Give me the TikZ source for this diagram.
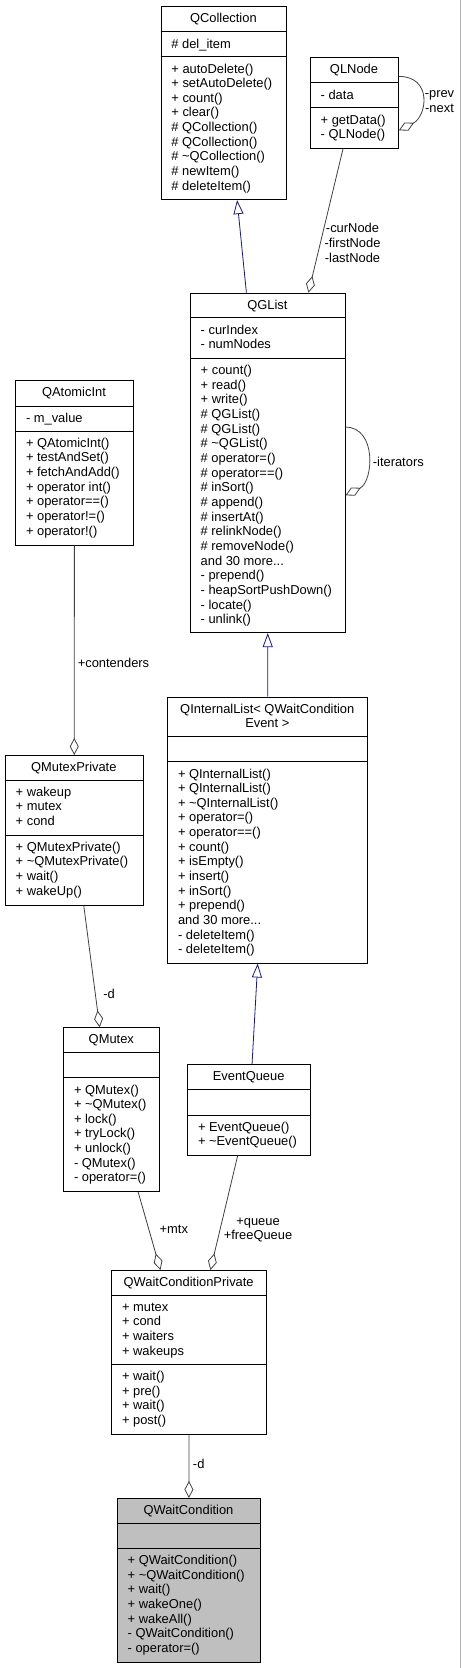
\documentclass[tikz,border=0pt]{standalone}
\usepackage{fontspec}
\setmainfont{Liberation Sans}
\usetikzlibrary{arrows.meta}
\definecolor{edgegray}{HTML}{404040}
\definecolor{inhblue}{HTML}{191970}
\definecolor{focusgray}{HTML}{BFBFBF}
\tikzset{
    umlclass/.style={
           rectangle,
           draw=black, line width=0.8pt,
           anchor=north west,
           inner sep=0pt
           },
    members/.style={anchor=north west, inner sep=0pt},
    classname/.style={anchor=north, inner sep=0pt},
    sepline/.style={draw=black, line width=0.8pt},
    aggr/.style={draw=edgegray, line width=0.8pt,
           -{Diamond[open, length=17pt, width=9pt]}},
    inherit/.style={draw=inhblue, line width=0.8pt,
           -{Triangle[open, length=14pt, width=10pt]}},
    rolename/.style={inner sep=0pt},
}

\begin{document}
\begin{tikzpicture}[x=1pt, y=-1pt, font=\fontsize{12.9}{14.65}\selectfont]
    \useasboundingbox (0,0) rectangle (461,1668);
    \draw[black!30, line width=0.8pt] (460.3,0) -- (460.3,1668);

    % QCollection
    \node[umlclass, minimum width=125.3pt, minimum height=193.6pt] (qcol) at (160.7,5.7) {};
    \draw[sepline] (qcol.west |- 0,31.7) -- (qcol.east |- 0,31.7);
    \draw[sepline] (qcol.west |- 0,56.7) -- (qcol.east |- 0,56.7);
    \node[classname] at (223.35,11.55) {\begin{tabular}{@{}c@{}}QCollection\end{tabular}};
    \node[members] at (171.2,37.55) {\begin{tabular}{@{}l@{}}\# del\_item\end{tabular}};
    \node[members] at (171.2,62.55)
        {\begin{tabular}{@{}l@{}}
            + autoDelete()\\
            + setAutoDelete()\\
            + count()\\
            + clear()\\
            \# QCollection()\\
            \# QCollection()\\
            \# \textasciitilde QCollection()\\
            \# newItem()\\
            \# deleteItem()
        \end{tabular}};

    % QLNode
    \node[umlclass, minimum width=88pt, minimum height=90.4pt] (qln) at (310,57.3) {};
    \draw[sepline] (qln.west |- 0,82.7) -- (qln.east |- 0,82.7);
    \draw[sepline] (qln.west |- 0,107.7) -- (qln.east |- 0,107.7);
    \node[classname] at (354,63.15) {\begin{tabular}{@{}c@{}}QLNode\end{tabular}};
    \node[members] at (320.5,88.55) {\begin{tabular}{@{}l@{}}- data\end{tabular}};
    \node[members] at (320.5,113.55)
        {\begin{tabular}{@{}l@{}}
            + getData()\\
            - QLNode()
        \end{tabular}};

    % QGList
    \node[umlclass, minimum width=154.7pt, minimum height=339.6pt] (qgl) at (190,292.7) {};
    \draw[sepline] (qgl.west |- 0,317.7) -- (qgl.east |- 0,317.7);
    \draw[sepline] (qgl.west |- 0,358.3) -- (qgl.east |- 0,358.3);
    \node[classname] at (267.35,298.55) {\begin{tabular}{@{}c@{}}QGList\end{tabular}};
    \node[members] at (200.5,323.55)
        {\begin{tabular}{@{}l@{}}
            - curIndex\\
            - numNodes
        \end{tabular}};
    \node[members] at (200.5,364.15)
        {\begin{tabular}{@{}l@{}}
            + count()\\
            + read()\\
            + write()\\
            \# QGList()\\
            \# QGList()\\
            \# \textasciitilde QGList()\\
            \# operator=()\\
            \# operator==()\\
            \# inSort()\\
            \# append()\\
            \# insertAt()\\
            \# relinkNode()\\
            \# removeNode()\\
            and 30 more...\\
            - prepend()\\
            - heapSortPushDown()\\
            - locate()\\
            - unlink()
        \end{tabular}};

    % QAtomicInt
    \node[umlclass, minimum width=117.4pt, minimum height=164.7pt] (qai) at (15.3,380) {};
    \draw[sepline] (qai.west |- 0,406) -- (qai.east |- 0,406);
    \draw[sepline] (qai.west |- 0,431) -- (qai.east |- 0,431);
    \node[classname] at (74,385.85) {\begin{tabular}{@{}c@{}}QAtomicInt\end{tabular}};
    \node[members] at (25.8,411.85) {\begin{tabular}{@{}l@{}}- m\_value\end{tabular}};
    \node[members] at (25.8,436.85)
        {\begin{tabular}{@{}l@{}}
            + QAtomicInt()\\
            + testAndSet()\\
            + fetchAndAdd()\\
            + operator int()\\
            + operator==()\\
            + operator!=()\\
            + operator!()
        \end{tabular}};

    % QMutexPrivate
    \node[umlclass, minimum width=137.7pt, minimum height=149.7pt] (qmp) at (5,755) {};
    \draw[sepline] (qmp.west |- 0,780) -- (qmp.east |- 0,780);
    \draw[sepline] (qmp.west |- 0,835) -- (qmp.east |- 0,835);
    \node[classname] at (73.85,760.85) {\begin{tabular}{@{}c@{}}QMutexPrivate\end{tabular}};
    \node[members] at (15.5,785.85)
        {\begin{tabular}{@{}l@{}}
            + wakeup\\
            + mutex\\
            + cond
        \end{tabular}};
    \node[members] at (15.5,840.85)
        {\begin{tabular}{@{}l@{}}
            + QMutexPrivate()\\
            + \textasciitilde QMutexPrivate()\\
            + wait()\\
            + wakeUp()
        \end{tabular}};

    % QInternalList< QWaitConditionEvent >
    \node[umlclass, minimum width=200pt, minimum height=266pt] (qil) at (167.3,696.7) {};
    \draw[sepline] (qil.west |- 0,736.7) -- (qil.east |- 0,736.7);
    \draw[sepline] (qil.west |- 0,761.7) -- (qil.east |- 0,761.7);
    \node[classname] at (267.3,702.55)
        {\begin{tabular}{@{}c@{}}
            QInternalList< QWaitCondition\\
            Event >
        \end{tabular}};
    \node[members] at (177.8,767.55)
        {\begin{tabular}{@{}l@{}}
            + QInternalList()\\
            + QInternalList()\\
            + \textasciitilde QInternalList()\\
            + operator=()\\
            + operator==()\\
            + count()\\
            + isEmpty()\\
            + insert()\\
            + inSort()\\
            + prepend()\\
            and 30 more...\\
            - deleteItem()\\
            - deleteItem()
        \end{tabular}};

    % QMutex
    \node[umlclass, minimum width=96pt, minimum height=163.7pt] (qmx) at (63.3,1027.3) {};
    \draw[sepline] (qmx.west |- 0,1052.3) -- (qmx.east |- 0,1052.3);
    \draw[sepline] (qmx.west |- 0,1077.7) -- (qmx.east |- 0,1077.7);
    \node[classname] at (111.3,1033.15) {\begin{tabular}{@{}c@{}}QMutex\end{tabular}};
    \node[members] at (73.8,1083.55)
        {\begin{tabular}{@{}l@{}}
            + QMutex()\\
            + \textasciitilde QMutex()\\
            + lock()\\
            + tryLock()\\
            + unlock()\\
            - QMutex()\\
            - operator=()
        \end{tabular}};

    % EventQueue
    \node[umlclass, minimum width=122.7pt, minimum height=90.7pt] (evq) at (187.3,1064) {};
    \draw[sepline] (evq.west |- 0,1089.3) -- (evq.east |- 0,1089.3);
    \draw[sepline] (evq.west |- 0,1115) -- (evq.east |- 0,1115);
    \node[classname] at (248.65,1069.85) {\begin{tabular}{@{}c@{}}EventQueue\end{tabular}};
    \node[members] at (197.8,1120.85)
        {\begin{tabular}{@{}l@{}}
            + EventQueue()\\
            + \textasciitilde EventQueue()
        \end{tabular}};

    % QWaitConditionPrivate
    \node[umlclass, minimum width=154.7pt, minimum height=164pt] (qwcp) at (111.3,1270) {};
    \draw[sepline] (qwcp.west |- 0,1295) -- (qwcp.east |- 0,1295);
    \draw[sepline] (qwcp.west |- 0,1364.3) -- (qwcp.east |- 0,1364.3);
    \node[classname] at (188.65,1275.85) {\begin{tabular}{@{}c@{}}QWaitConditionPrivate\end{tabular}};
    \node[members] at (121.8,1300.85)
        {\begin{tabular}{@{}l@{}}
            + mutex\\
            + cond\\
            + waiters\\
            + wakeups
        \end{tabular}};
    \node[members] at (121.8,1370.15)
        {\begin{tabular}{@{}l@{}}
            + wait()\\
            + pre()\\
            + wait()\\
            + post()
        \end{tabular}};

    % QWaitCondition
    \node[umlclass, fill=focusgray, minimum width=143pt, minimum height=164pt] (qwc) at (117,1498) {};
    \draw[sepline] (qwc.west |- 0,1523) -- (qwc.east |- 0,1523);
    \draw[sepline] (qwc.west |- 0,1548.3) -- (qwc.east |- 0,1548.3);
    \node[classname] at (188.5,1503.85) {\begin{tabular}{@{}c@{}}QWaitCondition\end{tabular}};
    \node[members] at (127.5,1554.15)
        {\begin{tabular}{@{}l@{}}
            + QWaitCondition()\\
            + \textasciitilde QWaitCondition()\\
            + wait()\\
            + wakeOne()\\
            + wakeAll()\\
            - QWaitCondition()\\
            - operator=()
        \end{tabular}};

    % inheritance
    \draw[inherit] ([xshift=-21.35pt]qgl.north) -- ([xshift=13.35pt]qcol.south);
    \draw[inherit] (qil.north) -- (qgl.south);
    \draw[inherit] ([xshift=3pt]evq.north) -- ([xshift=-10pt]qil.south);

    % usage
    \draw[aggr] ([xshift=-11.3pt]qln.south) -- ([xshift=40.65pt]qgl.north);
    \draw[aggr] ([yshift=26.5pt]qln.east) .. controls +(34,0) and +(28,-14) .. ([yshift=-27.5pt]qln.east);
    \draw[aggr] ([yshift=35.8pt]qgl.east) .. controls +(31.5,0) and +(28,-14) .. ([yshift=-32.5pt]qgl.east);
    \draw[aggr] (qai.south) -- (qmp.north);
    \draw[aggr] ([xshift=9.5pt]qmp.south) -- ([xshift=-12pt]qmx.north);
    \draw[aggr] ([xshift=26.4pt]qmx.south) -- ([xshift=-28.6pt]qwcp.north);
    \draw[aggr] ([xshift=-11.35pt]evq.south) -- ([xshift=21.35pt]qwcp.north);
    \draw[aggr] (qwcp.south) -- (qwc.north);

    % role names
    \node[rolename] (nodesrole) at (352.5,244.7)
        {\begin{tabular}{@{}c@{}}-curNode\\-firstNode\\-lastNode\end{tabular}};
    \node[rolename] (linksrole) at (439.5,102)
        {\begin{tabular}{@{}c@{}}-prev\\-next\end{tabular}};
    \node[rolename] (iterrole) at (398.3,461.7) {-iterators};
    \node[rolename] (controle) at (113.5,663.3) {+contenders};
    \node[rolename] (mpdrole) at (109,994.3) {-d};
    \node[rolename] (mtxrole) at (173.8,1229.3) {+mtx};
    \node[rolename] (queuerole) at (258,1229.5)
        {\begin{tabular}{@{}c@{}}+queue\\+freeQueue\end{tabular}};
    \node[rolename] (wcdrole) at (198.7,1464.3) {-d};
\end{tikzpicture}
\end{document}
